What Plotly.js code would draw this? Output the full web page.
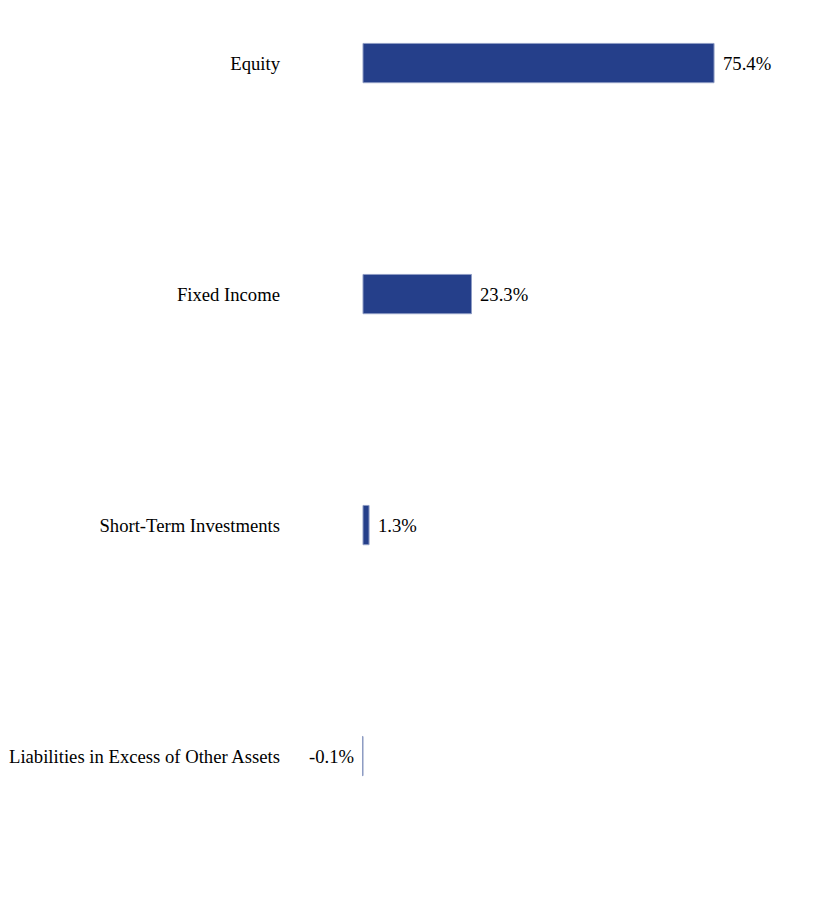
<!DOCTYPE html>
<html>
<head>
<meta charset="utf-8">
<script src="https://cdn.plot.ly/plotly-3.0.1.min.js"></script>
<style>html,body{margin:0;padding:0;background:#fff;}#chart{width:816px;height:900px;}</style>
</head>
<body>
<div id="chart"></div>
<script>
const categories = ["Equity", "Fixed Income", "Short-Term Investments", "Liabilities in Excess of Other Assets"];
const values = [75.4, 23.3, 1.3, -0.1];
const valueLabels = ["75.4%", "23.3%", "1.3%", "-0.1%"];

const FONT = "Times New Roman, Liberation Serif, serif";
const FSIZE = 18.67;

const trace = {
  type: "bar",
  orientation: "h",
  y: categories,
  x: values,
  width: 0.17,
  marker: {color: "#253f8a", line: {color: "#8e9cc4", width: 1}},
  hoverinfo: "skip"
};

const annotations = values.map((v, i) => ({
  x: v, y: categories[i], xref: "x", yref: "y",
  text: valueLabels[i],
  showarrow: false,
  xanchor: v >= 0 ? "left" : "right",
  yanchor: "middle",
  xshift: v >= 0 ? 7 : -7,
  font: {family: FONT, size: FSIZE, color: "#000"}
}));

const layout = {
  width: 816, height: 900,
  margin: {l: 288, r: 0, t: 0, b: 0},
  paper_bgcolor: "#fff", plot_bgcolor: "#fff",
  showlegend: false,
  font: {family: FONT, size: FSIZE, color: "#000"},
  annotations: annotations,
  xaxis: {range: [-16.11, 97.3], visible: false, showgrid: false, zeroline: false},
  yaxis: {
    type: "category",
    categoryorder: "array", categoryarray: categories,
    range: [3.623, -0.273],
    showgrid: false, zeroline: false, showline: false, ticks: "",
    tickfont: {family: FONT, size: FSIZE, color: "#000"},
    ticklabelstandoff: 7
  }
};

Plotly.newPlot("chart", [trace], layout, {displayModeBar: false, staticPlot: true});
</script>
</body>
</html>
